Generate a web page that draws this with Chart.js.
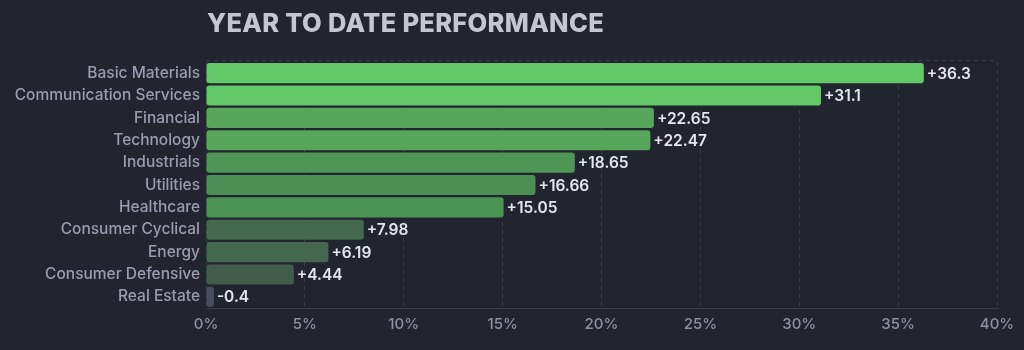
<!DOCTYPE html>
<html>
<head>
<meta charset="utf-8">
<script src="https://cdn.jsdelivr.net/npm/chart.js@4.4.1/dist/chart.umd.min.js"></script>
<style>
  html, body { margin: 0; padding: 0; background: #22252f; }
  #wrap { position: relative; width: 1024px; height: 350px; }
  #title {
    position: absolute; left: 207px; top: 7px; margin: 0;
    font-family: Inter, "Noto Sans", sans-serif; font-weight: 800; font-size: 25.5px;
    color: #c4c7d2; letter-spacing: 0.3px;
  }
</style>
</head>
<body>
<div id="wrap">
  <h1 id="title">YEAR TO DATE PERFORMANCE</h1>
  <canvas id="mycanvas" width="1024" height="350"></canvas>
</div>
<script>
var sectors = ['Basic Materials','Communication Services','Financial','Technology','Industrials','Utilities','Healthcare','Consumer Cyclical','Energy','Consumer Defensive','Real Estate'];
var ytd = [36.3, 31.1, 22.65, 22.47, 18.65, 16.66, 15.05, 7.98, 6.19, 4.44, -0.4];
var xTicks = [0, 5, 10, 15, 20, 25, 30, 35, 40];

var barColors = ['#63c867','#63c867','#57a65b','#57a65b','#4f9556','#4c8f54','#4c9454','#44694f','#43684e','#405c4a','#4a4e5c'];
var gridColor = '#3a3d4a';

var valueLabels = {
  id: 'valueLabels',
  afterDatasetsDraw: function(chart){
    var ctx = chart.ctx;
    var meta = chart.getDatasetMeta(0);
    ctx.save();
    ctx.font = '600 15.5px Inter, "Noto Sans", sans-serif';
    ctx.fillStyle = '#e4e6ee';
    ctx.textAlign = 'left';
    ctx.textBaseline = 'middle';
    meta.data.forEach(function(bar, i){
      var v = ytd[i];
      var txt = (v > 0 ? '+' : '') + v;
      ctx.fillText(txt, bar.x + 3, bar.y + 1);
    });
    ctx.restore();
  }
};

var topLine = {
  id: 'topLine',
  beforeDatasetsDraw: function(chart){
    var a = chart.chartArea, ctx = chart.ctx;
    ctx.save();
    ctx.strokeStyle = gridColor;
    ctx.lineWidth = 1;
    ctx.setLineDash([4, 4]);
    ctx.beginPath();
    ctx.moveTo(a.left, a.top - 1.5);
    ctx.lineTo(a.right, a.top - 1.5);
    ctx.stroke();
    ctx.restore();
  }
};

var ctx = document.getElementById('mycanvas');
var barGraph = new Chart(ctx, {
  type: 'bar',
  data: {
    labels: sectors,
    datasets: [{
      label: 'YTD',
      data: ytd.map(function(v){ return Math.abs(v); }),
      backgroundColor: barColors,
      borderRadius: 3,
      borderSkipped: false,
      barPercentage: 0.9,
      categoryPercentage: 1
    }]
  },
  options: {
    indexAxis: 'y',
    responsive: false,
    animation: false,
    layout: { padding: { top: 62, right: 27, left: 0, bottom: 0 } },
    plugins: { legend: { display: false }, tooltip: { enabled: false } },
    scales: {
      x: {
        min: 0, max: 40,
        afterBuildTicks: function(s){ s.ticks = xTicks.map(function(v){ return { value: v }; }); },
        afterFit: function(s){ s.height = 42; },
        grid: { color: gridColor, drawTicks: false },
        border: { display: true, color: gridColor, dash: [4, 4] },
        ticks: {
          padding: 7,
          color: '#8d91a3',
          font: { family: 'Inter', size: 15, weight: '500' },
          callback: function(v){ return v + '%'; }
        }
      },
      y: {
        afterFit: function(s){ s.width = 206; },
        grid: { display: false, drawTicks: false },
        border: { display: false },
        ticks: {
          padding: 6,
          color: '#9a9db0',
          font: { family: 'Inter', size: 15.5, weight: '500' }
        }
      }
    }
  },
  plugins: [topLine, valueLabels]
});
</script>
</body>
</html>
